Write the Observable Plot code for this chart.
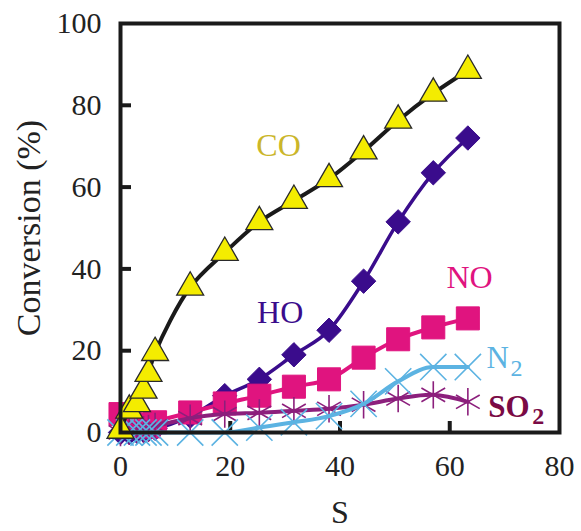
<!DOCTYPE html>
<html>
<head>
<meta charset="utf-8">
<script src="https://cdn.jsdelivr.net/npm/d3@7"></script>
<script src="https://cdn.jsdelivr.net/npm/@observablehq/plot@0.6"></script>
<style>
  html, body { margin: 0; padding: 0; background: #fff; }
  #chart { width: 581px; height: 531px; }
</style>
</head>
<body>
<div id="chart"></div>
<script>
// ---- data ----
const S    = [0, 1.6, 3, 4.2, 5.1, 6.3, 12.7, 19, 25.3, 31.6, 38, 44.3, 50.6, 57, 63.3];
const CO   = [0.5, 5.4, 7, 10.3, 14.4, 19.5, 35.5, 44, 51.5, 56.7, 62, 68.8, 76.3, 82.9, 88.5];
const HO   = [0, 0, 0.3, 0.5, 0.8, 1, 4, 9, 13, 19, 25, 37, 51.5, 63.5, 72];
const NO   = [4.5, 3, 2, 1.5, 1.5, 2.5, 4.9, 7.1, 9, 11.2, 13, 18.3, 22.8, 25.7, 27.9];
const N2   = [0, 0, 0, 0, 0, 0, 0, 0, 1.2, 2.5, 4, 7, 12.5, 16, 16];
const SO2  = [0, 0.3, 0.5, 0.7, 1, 1.5, 3.5, 4.5, 4.8, 5.3, 5.8, 6.8, 8.3, 9.2, 7.5];

const xTicks = [0, 20, 40, 60, 80];
const yTicks = [0, 20, 40, 60, 80, 100];

const labelText = ["CO", "HO", "NO"];
const labelS    = [28.8, 29.1, 63.6];
const labelV    = [70.2, 29.3, 37.9];

// ---- tables ----
const rows = (vals) => S.map((s, i) => ({s, v: vals[i]}));
const coRows = rows(CO), hoRows = rows(HO), noRows = rows(NO), n2Rows = rows(N2), so2Rows = rows(SO2);
const lab = labelText.map((t, i) => ({t, s: labelS[i], v: labelV[i]}));

const cCO = "#cbb62a", cHO = "#3a0c8c", cNO = "#e0147f", cN2 = "#5cb3e2", cSO2 = "#8c1f7c", cSO2lab = "#7a0a45";

const chart = Plot.plot({
  width: 581,
  height: 531,
  marginLeft: 120,
  marginRight: 22,
  marginTop: 23,
  marginBottom: 99,
  style: {fontFamily: "'Liberation Serif', 'Times New Roman', serif", fontSize: "30px", color: "#222", background: "white", overflow: "visible"},
  x: {domain: [0, 80]},
  y: {domain: [0, 100]},
  marks: [
    Plot.axisX({ticks: xTicks, tickSize: 0, tickPadding: 22, label: null}),
    Plot.axisX({ticks: [], label: "S", labelAnchor: "center", labelArrow: "none", labelOffset: 90, fontSize: 32}),
    Plot.axisX({ticks: [20, 40, 60], tickSize: 11, dy: -11, tickFormat: () => "", label: null, strokeWidth: 4, stroke: "#1a1a1a"}),
    Plot.axisY({ticks: yTicks, tickSize: 0, tickPadding: 19, label: null}),
    Plot.axisY({ticks: [], label: "Conversion (%)", labelAnchor: "center", labelArrow: "none", labelOffset: 105, fontSize: 34}),
    Plot.axisY({ticks: [20, 40, 60, 80], tickSize: 11, dx: 11, tickFormat: () => "", label: null, strokeWidth: 4, stroke: "#1a1a1a"}),

    // HO
    Plot.line(hoRows, {x: "s", y: "v", curve: "monotone-x", stroke: cHO, strokeWidth: 3.5}),
    Plot.dot(hoRows, {x: "s", y: "v", symbol: "diamond2", r: 11, fill: cHO, stroke: cHO, strokeWidth: 1}),
    // NO
    Plot.line(noRows, {x: "s", y: "v", curve: "catmull-rom", stroke: cNO, strokeWidth: 4}),
    Plot.dot(noRows, {x: "s", y: "v", symbol: "square", r: 13, fill: cNO, stroke: cNO, strokeWidth: 1}),
    // SO2
    Plot.line(so2Rows, {x: "s", y: "v", curve: "catmull-rom", stroke: cSO2, strokeWidth: 4}),
    Plot.dot(so2Rows, {x: "s", y: "v", symbol: "asterisk", r: 13, stroke: cSO2, strokeWidth: 1.6}),
    // N2
    Plot.line(n2Rows, {x: "s", y: "v", curve: "monotone-x", stroke: cN2, strokeWidth: 4}),
    Plot.dot(n2Rows, {x: "s", y: "v", symbol: "times", r: 12, stroke: cN2, strokeWidth: 1.6}),
    // CO
    Plot.line(coRows, {x: "s", y: "v", curve: "catmull-rom", stroke: "#1a1a1a", strokeWidth: 4}),
    Plot.dot(coRows, {x: "s", y: "v", symbol: "triangle", r: 10, fill: "#f4ec00", stroke: "#2a2a2a", strokeWidth: 1.3}),

    Plot.frame({stroke: "#1a1a1a", strokeWidth: 4}),

    // series labels
    Plot.text(lab, {x: "s", y: "v", text: "t", fontSize: 32,
      fill: (d) => d.t === "CO" ? cCO : d.t === "HO" ? cHO : cNO}),
    Plot.text([{s: 66.7, v: 18.1}], {x: "s", y: "v", text: () => "N", fontSize: 31, fill: cN2, textAnchor: "start"}),
    Plot.text([{s: 66.7, v: 18.1}], {x: "s", y: "v", text: () => "2", fontSize: 24, fill: cN2, textAnchor: "start", dx: 24, dy: 10}),
    Plot.text([{s: 67.0, v: 6.1}], {x: "s", y: "v", text: () => "SO", fontSize: 31, fontWeight: "bold", fill: cSO2lab, textAnchor: "start"}),
    Plot.text([{s: 67.0, v: 6.1}], {x: "s", y: "v", text: () => "2", fontSize: 24, fontWeight: "bold", fill: cSO2lab, textAnchor: "start", dx: 44, dy: 9})
  ]
});
document.getElementById("chart").appendChild(chart);
</script>
</body>
</html>
